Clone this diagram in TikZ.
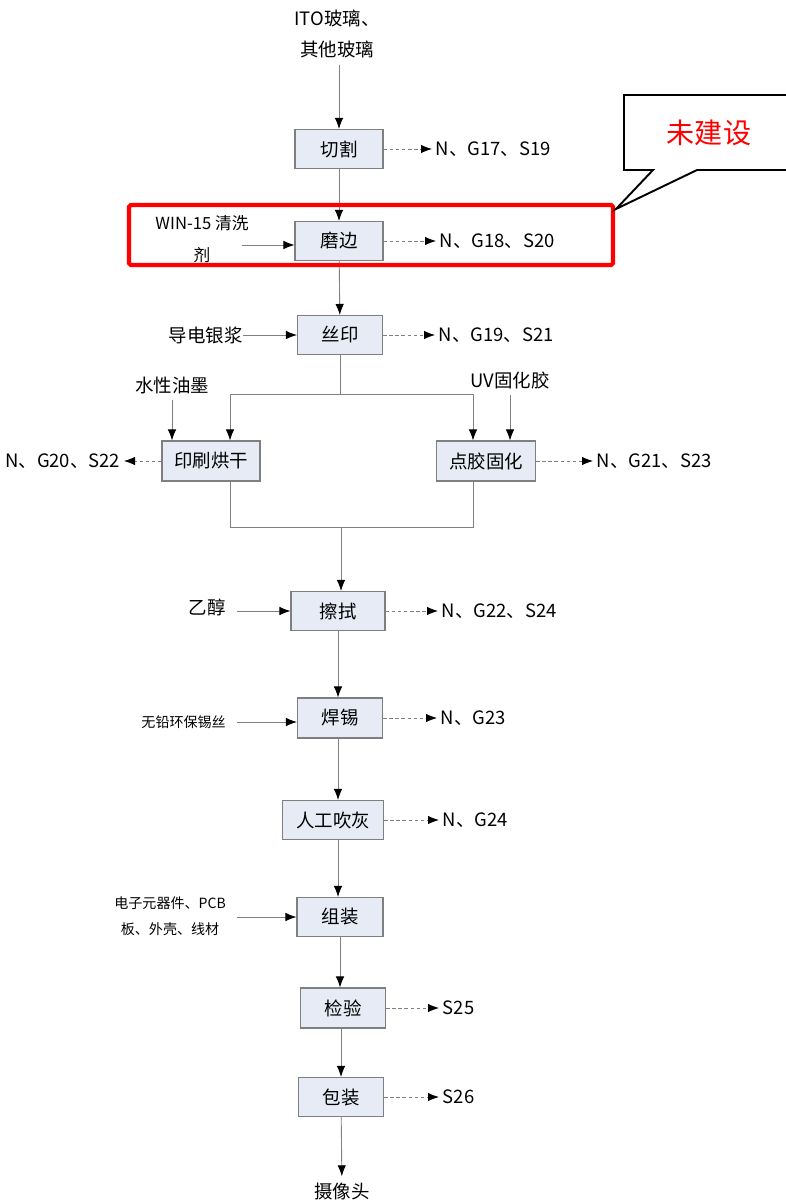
\documentclass[tikz,border=0pt]{standalone}
\usepackage{fontspec}
\setmainfont{Noto Sans CJK SC}
\usetikzlibrary{arrows.meta}
\definecolor{boxfill}{HTML}{E6EBF5}
\definecolor{boxline}{HTML}{7F7F7F}
\definecolor{flowgray}{HTML}{808080}
\begin{document}
\begin{tikzpicture}[x=0.02cm, y=-0.02cm,
        every node/.style={font=\fontsize{10.5}{13}\selectfont},
        proc/.style={draw=boxline, fill=boxfill, line width=0.6pt, minimum height=0.78cm, inner sep=0pt},
        flow/.style={draw=flowgray, line width=0.5pt, -{Latex[black,length=2.2mm,width=1.7mm]}},
        waste/.style={draw=flowgray, dashed, dash pattern=on 2pt off 1.5pt, line width=0.5pt, -{Latex[black,length=2.2mm,width=1.7mm]}},
        small/.style={font=\fontsize{8}{15}\selectfont}]
    \useasboundingbox (0, 0) rectangle (786, 1202);
    \clip (0, 0) rectangle (786, 1202);

    % main process steps
    \node[proc, minimum width=1.76cm] (cut) at (339, 149) {切割};
    \node[proc, minimum width=1.76cm] (grind) at (339, 241) {磨边};
    \node[proc, minimum width=1.70cm] (silk) at (340, 335) {丝印};
    \node[proc, minimum width=1.96cm, minimum height=0.80cm] (print) at (211, 461) {印刷烘干};
    \node[proc, minimum width=1.98cm, minimum height=0.80cm] (glue) at (486, 461) {点胶固化};
    \node[proc, minimum width=1.88cm] (wipe) at (338, 611) {擦拭};
    \node[proc, minimum width=1.70cm, minimum height=0.80cm] (solder) at (340, 718) {焊锡};
    \node[proc, minimum width=2.02cm] (blow) at (333, 820) {人工吹灰};
    \node[proc, minimum width=1.72cm] (assy) at (340, 917) {组装};
    \node[proc, minimum width=1.70cm, minimum height=0.80cm] (check) at (343, 1008) {检验};
    \node[proc, minimum width=1.70cm] (pack) at (341, 1097) {包装};

    % raw material and product
    \node[align=center, font=\fontsize{10.5}{18}\selectfont] (glass) at (337, 34) {ITO玻璃、\\其他玻璃};
    \node (camera) at (342, 1191) {摄像头};

    % inputs
    \node[align=center, font=\fontsize{9.5}{18}\selectfont] (clean) at (202, 239) {WIN-15 清洗\\剂};
    \coordinate (cleanin) at (242, 245);
    \node[anchor=east, inner sep=0pt] (paste) at (243, 335) {导电银浆};
    \node (ink) at (172, 385) {水性油墨};
    \node (uv) at (510, 380) {UV固化胶};
    \node[anchor=east] (ethanol) at (232, 607) {乙醇};
    \node[small, anchor=east] (wire) at (232, 722) {无铅环保锡丝};
    \node[small, align=center, anchor=east] (parts) at (232, 916) {电子元器件、PCB\\板、外壳、线材};

    % emissions
    \node[anchor=west, inner sep=2pt] (e1) at (432, 149) {N、G17、S19};
    \node[anchor=west, inner sep=2pt] (e2) at (436, 241) {N、G18、S20};
    \node[anchor=west, inner sep=2pt] (e3) at (435, 335) {N、G19、S21};
    \node[anchor=east, inner sep=2pt] (e4) at (124, 461) {N、G20、S22};
    \node[anchor=west, inner sep=2pt] (e5) at (593, 461) {N、G21、S23};
    \node[anchor=west, inner sep=2pt] (e6) at (438, 611) {N、G22、S24};
    \node[anchor=west, inner sep=2pt] (e7) at (437, 718) {N、G23};
    \node[anchor=west, inner sep=2pt] (e8) at (439, 820) {N、G24};
    \node[anchor=west, inner sep=2pt] (e9) at (439, 1008) {S25};
    \node[anchor=west, inner sep=2pt] (e10) at (439, 1097) {S26};

    % main flow
    \draw[flow] (glass.south -| cut) -- (cut);
    \draw[flow] (cut) -- (grind);
    \draw[flow] (grind) -- (silk);
    \coordinate (split) at (340, 394);
    \coordinate (splitl) at (230, 394);
    \coordinate (splitr) at (473, 394);
    \draw[draw=flowgray, line width=0.5pt] (silk.south) -- (split);
    \draw[draw=flowgray, line width=0.5pt] (splitl) -- (splitr);
    \draw[flow] (splitl) -- (splitl |- print.north);
    \draw[flow] (splitr) -- (splitr |- glue.north);
    \coordinate (joinl) at (230, 527);
    \coordinate (joinr) at (473, 527);
    \coordinate (join) at (341, 527);
    \draw[draw=flowgray, line width=0.5pt] (joinl |- print.south) -- (joinl) -- (joinr) -- (joinr |- glue.south);
    \draw[flow] (join) -- (join |- wipe.north);
    \draw[flow] (wipe) -- (wipe |- solder.north);
    \draw[flow] (solder.south -| wipe) -- (wipe |- blow.north);
    \draw[flow] (blow.south -| wipe) -- (wipe |- assy.north);
    \draw[flow] (assy) -- (assy |- check.north);
    \draw[flow] (check.south -| pack) -- (pack);
    \draw[flow] (pack) -- (camera);

    % input arrows
    \draw[flow] (cleanin) -- (cleanin -| grind.west);
    \draw[flow] (paste) -- (silk);
    \draw[flow] (ink.south) -- (ink.south |- print.north);
    \draw[flow] (uv.south) -- (uv.south |- glue.north);
    \draw[flow] ([xshift=0.1cm]ethanol.east |- wipe) -- (wipe);
    \draw[flow] ([xshift=0.1cm]wire.east) -- (wire -| solder.west);
    \draw[flow] ([xshift=0.1cm]parts.east |- assy) -- (assy);

    % emission arrows
    \draw[waste] (cut) -- (e1);
    \draw[waste] (grind) -- (e2);
    \draw[waste] (silk) -- (e3);
    \draw[waste] (print) -- (e4);
    \draw[waste] (glue) -- (e5);
    \draw[waste] (wipe) -- (e6);
    \draw[waste] (solder) -- (e7);
    \draw[waste] (blow) -- (e8);
    \draw[waste] (check) -- (e9);
    \draw[waste] (pack) -- (e10);

    % not built yet
    \draw[red, line width=2.3pt, rounded corners=1pt] (129, 205) rectangle (613, 265);
    \draw[line width=1.1pt, fill=white] (800, 95) -- (624, 95) -- (624, 170) -- (653, 170)
        -- (616, 209) -- (697, 170) -- (800, 170);
    \node[red, font=\fontsize{16}{18}\selectfont] (note) at (709, 133) {未建设};
\end{tikzpicture}
\end{document}
